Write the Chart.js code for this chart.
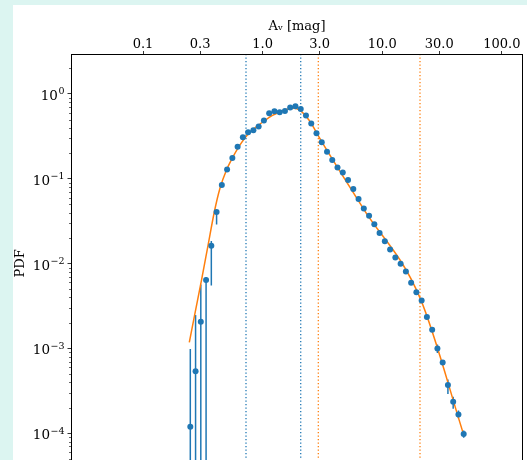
<!DOCTYPE html>
<html>
<head>
<meta charset="utf-8">
<script src="https://cdn.jsdelivr.net/npm/chart.js@4/dist/chart.umd.min.js"></script>
<style>
  html, body { margin: 0; padding: 0; width: 527px; height: 460px; overflow: hidden; background: #dcf5f1; }
  #wrap { position: absolute; left: 13px; top: 5px; width: 514px; height: 480px; background: #ffffff; }
  canvas { display: block; }
</style>
</head>
<body>
<div id="wrap"><canvas id="pdf" width="514" height="480"></canvas></div>
<script>
// Column-density PDF, expressed in visual extinction A_v [mag]
const avBins = [
  0.2486, 0.2751, 0.3043, 0.3368, 0.3726, 0.4123, 0.4562, 0.5047, 0.5585, 0.6180,
  0.6838, 0.7567, 0.8375, 0.9268, 1.0254, 1.1347, 1.2558, 1.3893, 1.5375, 1.7009,
  1.8826, 2.0835, 2.3046, 2.5506, 2.8220, 3.1228, 3.4555, 3.8228, 4.2304, 4.6807,
  5.1798, 5.7317, 6.3416, 7.0178, 7.7662, 8.5935, 9.5083, 10.520, 11.641, 12.882,
  14.255, 15.775, 17.452, 19.312, 21.370, 23.646, 26.167, 28.945, 32.030, 35.438,
  39.216, 43.399, 48.015
];
const pdfValues = [
  1.19e-4, 5.38e-4, 2.07e-3, 6.43e-3, 1.62e-2, 4.06e-2, 8.45e-2, 0.1286, 0.176, 0.2383,
  0.309, 0.3534, 0.3728, 0.415, 0.4876, 0.593, 0.6254, 0.609, 0.6303, 0.691,
  0.715, 0.665, 0.5575, 0.4498, 0.344, 0.2703, 0.2084, 0.1669, 0.1358, 0.1187,
  0.0966, 0.0759, 0.0580, 0.0446, 0.0368, 0.0292, 0.02296, 0.01833, 0.01467, 0.01184,
  0.0100, 8.07e-3, 5.94e-3, 4.60e-3, 3.67e-3, 2.35e-3, 1.66e-3, 9.97e-4, 6.85e-4, 3.70e-4,
  2.36e-4, 1.67e-4, 9.84e-5
];
// Error-bar bounds (0 = bar reaches below the axis, null = hidden by the marker)
const errLow = [
  0, 0, 0, 0, 5.54e-3, 2.89e-2, null, null, null, null,
  null, null, null, null, null, null, null, null, null, null,
  null, null, null, null, null, null, null, null, null, null,
  null, null, null, null, null, null, null, null, null, null,
  null, null, null, null, null, null, null, 8.87e-4, null, 2.91e-4,
  1.94e-4, 1.50e-4, 8.84e-5
];
const errHigh = [
  9.87e-4, 2.48e-3, 5.69e-3, 6.93e-3, 1.85e-2, 4.3e-2, null, null, null, null,
  null, null, null, null, null, null, null, null, null, null,
  null, null, null, null, null, null, null, null, null, null,
  null, null, null, null, null, null, null, null, null, null,
  null, null, null, null, null, null, null, 1.11e-3, null, 4.3e-4,
  2.7e-4, 1.85e-4, 1.08e-4
];

// Fitted model: log-normal body followed by two power-law tails
const fitAv = [
  0.24384, 0.27213, 0.30959, 0.34952, 0.39465, 0.44013, 0.50099, 0.55476, 0.64723, 0.73637,
  0.88068, 1.0273, 1.1985, 1.3981, 1.6310, 1.8307, 2.0549, 2.3066, 2.5886, 2.9232,
  6.9507, 20.706, 48.58
];
const fitPdf = [
  1.1808e-3, 2.6108e-3, 6.5668e-3, 1.6331e-2, 4.0626e-2, 7.7324e-2, 0.12866, 0.17279, 0.25146, 0.32263,
  0.40738, 0.47857, 0.55452, 0.61727, 0.66512, 0.67772, 0.64259, 0.54714, 0.43560, 0.32004,
  0.044628, 3.9447e-3, 9.1282e-5
];

// Marker lines: log-normal fit range (blue) and power-law break points (orange)
const blueMarks = [0.7264, 2.0828];
const orangeMarks = [2.9232, 20.706];

// Axis ticks
const topTicks = [0.1, 0.3, 1, 3, 10, 30, 100];
const topTickLabels = ['0.1', '0.3', '1.0', '3.0', '10.0', '30.0', '100.0'];
const yTicks = [1e-4, 1e-3, 1e-2, 1e-1, 1];
const yTickExponents = ['−4', '−3', '−2', '−1', '0'];

const X_MIN = 0.025, X_MAX = 150.4;
const Y_MIN = 3.43e-5, Y_MAX = 2.961;

const BLUE = '#1f77b4';
const ORANGE = '#ff7f0e';
const SERIF = "'DejaVu Serif', 'Liberation Serif', serif";

function markLine(v, color) {
  return {
    type: 'line',
    data: [{ x: v, y: Y_MAX }, { x: v, y: Y_MIN }],
    borderColor: color,
    borderWidth: 1.3,
    borderDash: [1.3, 2.2],
    pointRadius: 0,
    order: 3
  };
}

// Vertical error bars, drawn underneath the markers
const errorBars = {
  id: 'errorBars',
  beforeDatasetsDraw(chart) {
    const { ctx, chartArea: a, scales: { x, y } } = chart;
    ctx.save();
    ctx.beginPath();
    ctx.rect(a.left, a.top, a.right - a.left, a.bottom - a.top);
    ctx.clip();
    ctx.strokeStyle = BLUE;
    ctx.lineWidth = 1.5;
    avBins.forEach((av, i) => {
      const lo = errLow[i], hi = errHigh[i];
      if (lo === null && hi === null) return;
      const px = x.getPixelForValue(av);
      const yHi = y.getPixelForValue(hi === null ? pdfValues[i] : hi);
      const yLo = lo > 0 ? y.getPixelForValue(lo) : a.bottom + 2;
      ctx.beginPath();
      ctx.moveTo(px, yHi);
      ctx.lineTo(px, yLo);
      ctx.stroke();
    });
    ctx.restore();
  }
};

// Axes frame, minor ticks and power-of-ten labels on the PDF axis
const frame = {
  id: 'frame',
  afterDraw(chart) {
    const { ctx, chartArea: a, scales: { y } } = chart;
    ctx.save();
    ctx.strokeStyle = '#000';
    ctx.lineWidth = 1;
    ctx.strokeRect(a.left + 0.5, a.top + 0.5, a.right - a.left - 1, a.bottom - a.top);
    ctx.lineWidth = 0.6;
    for (let k = -6; k <= 0; k++) {
      for (let m = 2; m <= 9; m++) {
        const v = m * Math.pow(10, k);
        if (v < Y_MIN || v > Y_MAX) continue;
        const py = Math.round(y.getPixelForValue(v)) + 0.5;
        ctx.beginPath();
        ctx.moveTo(a.left - 2, py);
        ctx.lineTo(a.left, py);
        ctx.stroke();
      }
    }
    // 10^k labels with a raised exponent
    ctx.fillStyle = '#000';
    ctx.textBaseline = 'alphabetic';
    const right = a.left - 6.5;
    yTicks.forEach((v, i) => {
      const py = y.getPixelForValue(v);
      const exp = yTickExponents[i];
      ctx.font = `9.5px ${SERIF}`;
      const wExp = ctx.measureText(exp).width;
      ctx.textAlign = 'left';
      ctx.fillText(exp, right - wExp, py + 0.5);
      ctx.font = `13.5px ${SERIF}`;
      ctx.textAlign = 'right';
      ctx.fillText('10', right - wExp - 0.5, py + 6);
    });
    ctx.restore();
  }
};

new Chart(document.getElementById('pdf'), {
  type: 'scatter',
  data: {
    datasets: [
      {
        type: 'scatter',
        data: avBins.map((a, i) => ({ x: a, y: pdfValues[i] })),
        pointRadius: 3,
        pointBackgroundColor: BLUE,
        pointBorderWidth: 0,
        order: 0
      },
      {
        type: 'line',
        data: fitAv.map((a, i) => ({ x: a, y: fitPdf[i] })),
        borderColor: ORANGE,
        borderWidth: 1.5,
        pointRadius: 0,
        cubicInterpolationMode: 'monotone',
        order: 1
      },
      ...blueMarks.map(v => markLine(v, BLUE)),
      ...orangeMarks.map(v => markLine(v, ORANGE))
    ]
  },
  options: {
    responsive: false,
    devicePixelRatio: 1,
    animation: false,
    layout: { padding: { left: 0, top: 0, right: 4, bottom: 7 } },
    plugins: { legend: { display: false }, tooltip: { enabled: false } },
    scales: {
      x: {
        type: 'logarithmic',
        position: 'top',
        min: X_MIN,
        max: X_MAX,
        afterBuildTicks: s => { s.ticks = topTicks.map(v => ({ value: v })); },
        afterFit: s => { s.height = 49; },
        ticks: {
          autoSkip: false,
          maxRotation: 0,
          padding: 0,
          color: '#000',
          font: { family: SERIF, size: 13, lineHeight: 1 },
          callback: v => topTickLabels[topTicks.indexOf(v)] ?? ''
        },
        grid: { drawOnChartArea: false, drawTicks: true, tickLength: 3, tickColor: '#000', tickWidth: 0.8 },
        border: { display: false },
        title: { display: true, text: 'Aᵥ [mag]', color: '#000', font: { family: SERIF, size: 13 }, padding: { top: 14, bottom: 0 } }
      },
      y: {
        type: 'logarithmic',
        position: 'left',
        min: Y_MIN,
        max: Y_MAX,
        afterBuildTicks: s => { s.ticks = yTicks.map(v => ({ value: v })); },
        afterFit: s => { s.width = 58; },
        ticks: {
          autoSkip: false,
          padding: 4.5,
          color: '#000',
          font: { family: SERIF, size: 13 },
          callback: () => ''
        },
        grid: { drawOnChartArea: false, drawTicks: true, tickLength: 3.5, tickColor: '#000', tickWidth: 0.8 },
        border: { display: false },
        title: { display: true, text: 'PDF', color: '#000', font: { family: SERIF, size: 13, lineHeight: 1 }, padding: { top: 1, bottom: 0 } }
      }
    }
  },
  plugins: [errorBars, frame]
});
</script>
</body>
</html>
